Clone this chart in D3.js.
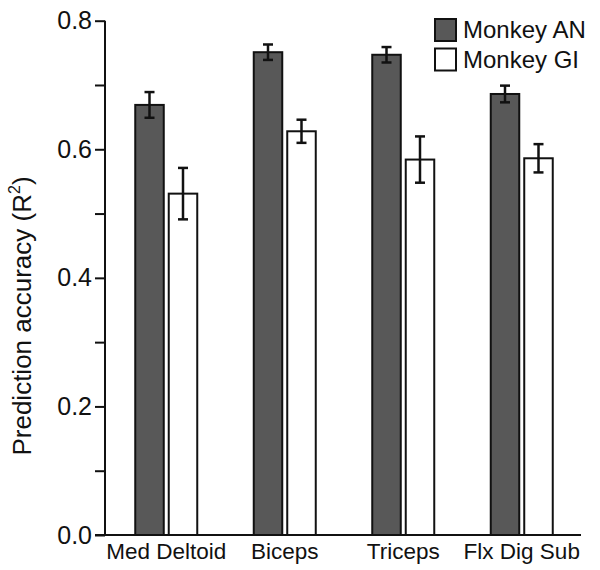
<!DOCTYPE html>
<html>
<head>
<meta charset="utf-8">
<script src="https://cdn.jsdelivr.net/npm/d3@7"></script>
<style>
  html, body { margin: 0; padding: 0; background: #fff; }
  svg { display: block; font-family: "Liberation Sans", Arial, Helvetica, sans-serif; }
</style>
</head>
<body>
<svg id="chart" width="600" height="570"></svg>
<script>
const categories = ["Med Deltoid", "Biceps", "Triceps", "Flx Dig Sub"];
const seriesNames = ["Monkey AN", "Monkey GI"];
const anValues = [0.669, 0.751, 0.747, 0.686];
const anErrors = [0.020, 0.012, 0.012, 0.013];
const giValues = [0.531, 0.628, 0.584, 0.586];
const giErrors = [0.040, 0.018, 0.036, 0.022];
const yTickValues = [0, 0.2, 0.4, 0.6, 0.8];
const yMinorTicks = [0.1, 0.3, 0.5, 0.7];

const seriesColors = ["#585858", "#ffffff"];

const svg = d3.select("#chart");
const mLeft = 105, mRight = 581, mTop = 20.7, mBottom = 535;

const y = d3.scaleLinear().domain([0, 0.8]).range([mBottom, mTop]);
const x0 = d3.scaleBand().domain(categories).range([mLeft + 2, mRight]).padding(0);
const groupW = 62;
const x1 = d3.scaleBand().domain(seriesNames).range([0, groupW]).paddingInner(0.149);
const groupOffset = (x0.bandwidth() - groupW) / 2;

const data = [];
categories.forEach((c, i) => {
  data.push({cat: c, series: seriesNames[0], v: anValues[i], e: anErrors[i]});
  data.push({cat: c, series: seriesNames[1], v: giValues[i], e: giErrors[i]});
});
const color = d3.scaleOrdinal().domain(seriesNames).range(seriesColors);
const bx = d => x0(d.cat) + groupOffset + x1(d.series);

// bars
svg.append("g").selectAll("rect").data(data).join("rect")
  .attr("x", d => bx(d))
  .attr("y", d => y(d.v))
  .attr("width", x1.bandwidth())
  .attr("height", d => y(0) - y(d.v))
  .attr("fill", d => color(d.series))
  .attr("stroke", "#111")
  .attr("stroke-width", 2);

// error bars
const eg = svg.append("g").attr("stroke", "#111").attr("stroke-width", 2.5);
const cx = d => bx(d) + x1.bandwidth() / 2;
eg.selectAll("line.v").data(data).join("line").attr("class", "v")
  .attr("x1", cx).attr("x2", cx)
  .attr("y1", d => y(d.v + d.e)).attr("y2", d => y(d.v - d.e));
eg.selectAll("line.t").data(data).join("line").attr("class", "t")
  .attr("x1", d => cx(d) - 5).attr("x2", d => cx(d) + 5)
  .attr("y1", d => y(d.v + d.e)).attr("y2", d => y(d.v + d.e));
eg.selectAll("line.b").data(data).join("line").attr("class", "b")
  .attr("x1", d => cx(d) - 5).attr("x2", d => cx(d) + 5)
  .attr("y1", d => y(d.v - d.e)).attr("y2", d => y(d.v - d.e));

// y axis
const yAxis = d3.axisLeft(y).tickValues(yTickValues).tickFormat(d3.format(".1f")).tickSize(10).tickPadding(3);
const ya = svg.append("g").attr("transform", `translate(${mLeft},0)`).call(yAxis);
ya.select(".domain").attr("d", `M0,${mBottom}V${mTop}`).attr("stroke", "#111").attr("stroke-width", 2);
ya.selectAll(".tick line").attr("stroke", "#111").attr("stroke-width", 2);
ya.selectAll(".tick text").attr("font-size", 25).attr("fill", "#111")
  .attr("font-family", "Liberation Sans, Arial, sans-serif");
const yMinor = d3.axisLeft(y).tickValues(yMinorTicks).tickSize(10).tickFormat("");
const ym = svg.append("g").attr("transform", `translate(${mLeft},0)`).call(yMinor);
ym.select(".domain").remove();
ym.selectAll(".tick line").attr("stroke", "#111").attr("stroke-width", 2);

// x axis
const xAxis = d3.axisBottom(x0).tickSize(0).tickPadding(8);
const xa = svg.append("g").attr("transform", `translate(0,${mBottom})`).call(xAxis);
xa.select(".domain").attr("d", `M${mLeft - 10},0H${mRight}`).attr("stroke", "#111").attr("stroke-width", 2);
xa.selectAll(".tick text").attr("font-size", 22.5).attr("fill", "#111")
  .attr("font-family", "Liberation Sans, Arial, sans-serif");

// y title
const yt = svg.append("text")
  .attr("transform", `translate(31,316) rotate(-90)`)
  .attr("text-anchor", "middle")
  .attr("font-size", 26)
  .attr("fill", "#111");
yt.append("tspan").text("Prediction accuracy (R");
yt.append("tspan").attr("font-size", 16).attr("dy", -11).text("2");
yt.append("tspan").attr("dy", 11).text(")");

// legend
const lg = svg.append("g");
seriesNames.forEach((s, i) => {
  const row = lg.append("g").attr("transform", `translate(435,${19 + i * 29.5})`);
  row.append("rect").attr("width", 21).attr("height", 22)
    .attr("fill", color(s)).attr("stroke", "#111").attr("stroke-width", 2);
  row.append("text").attr("x", 28).attr("y", 19).attr("font-size", 24).attr("fill", "#111").text(s);
});
</script>
</body>
</html>
